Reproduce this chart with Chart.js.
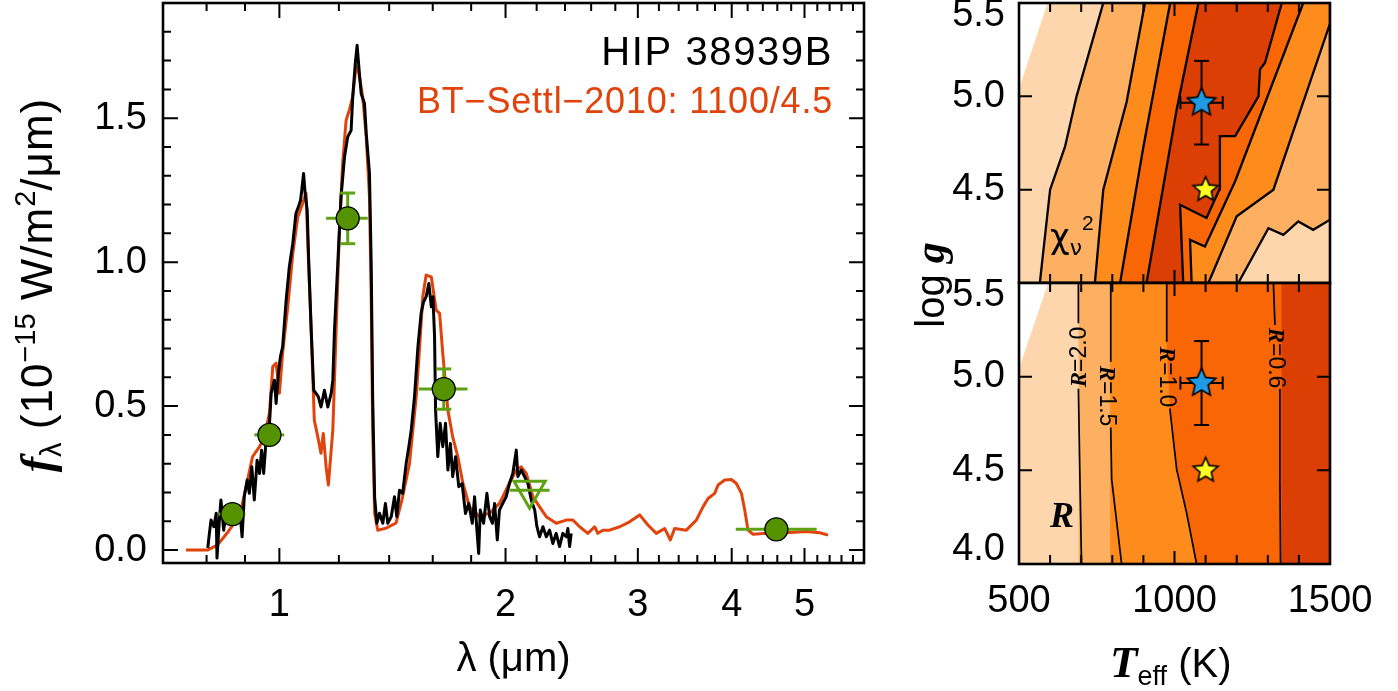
<!DOCTYPE html>
<html>
<head>
<meta charset="utf-8">
<title>HIP 38939B</title>
<script src="https://cdn.jsdelivr.net/npm/chart.js@4.4.1/dist/chart.umd.min.js"></script>
<style>
  html, body { margin:0; padding:0; background:#ffffff; }
  #wrap { position:relative; width:1398px; height:691px; overflow:hidden; background:#fff; }
  canvas { position:absolute; display:block; }
</style>
</head>
<body>
<div id="wrap">
  <canvas id="spec" width="900" height="691" style="left:0px;top:0px;width:900px;height:691px"></canvas>
  <canvas id="chi" width="498" height="360" style="left:900px;top:0px;width:498px;height:360px"></canvas>
  <canvas id="rad" width="498" height="421" style="left:900px;top:270px;width:498px;height:421px"></canvas>
</div>
<script>
// ================= SPECTRUM PANEL DATA =================
const modelLambda = [0.751,0.802,0.827,0.852,0.871,0.889,0.903,0.921,0.941,0.955,
  0.970,0.980,0.990,1.000,1.010,1.026,1.042,1.058,1.074,1.085,
  1.091,1.102,1.113,1.125,1.136,1.144,1.154,1.162,1.178,1.190,
  1.202,1.214,1.227,1.239,1.252,1.265,1.275,1.291,1.305,1.318,
  1.325,1.331,1.339,1.352,1.387,1.430,1.459,1.490,1.521,1.537,
  1.552,1.568,1.593,1.617,1.634,1.650,1.676,1.701,1.728,1.755,
  1.791,1.846,1.905,1.963,2.024,2.067,2.099,2.131,2.175,2.220,
  2.266,2.336,2.410,2.459,2.510,2.574,2.628,2.654,2.695,2.751,
  2.838,2.925,3.017,3.094,3.175,3.257,3.314,3.358,3.481,3.589,
  3.663,3.720,3.797,3.836,3.915,3.996,4.058,4.121,4.163,4.205,
  4.270,4.448,4.730,5.030,5.239,5.374];
const modelFlux = [0.000,0.000,0.017,0.059,0.094,0.139,0.220,0.324,0.359,0.393,
  0.476,0.637,0.649,0.545,0.684,0.845,1.030,1.157,1.204,1.240,
  1.065,0.775,0.451,0.393,0.336,0.405,0.289,0.226,0.417,0.764,
  1.111,1.343,1.493,1.528,1.574,1.680,1.660,1.574,1.435,1.227,
  0.880,0.417,0.128,0.069,0.076,0.094,0.185,0.300,0.532,0.706,
  0.880,0.955,0.949,0.833,0.822,0.683,0.486,0.393,0.324,0.232,
  0.150,0.116,0.128,0.162,0.232,0.278,0.289,0.266,0.185,0.150,
  0.116,0.093,0.104,0.104,0.081,0.058,0.081,0.058,0.069,0.069,
  0.081,0.098,0.122,0.087,0.058,0.075,0.035,0.075,0.069,0.104,
  0.150,0.179,0.197,0.226,0.243,0.245,0.231,0.197,0.139,0.069,
  0.055,0.058,0.060,0.064,0.060,0.052];

const obsLambda = [0.803,0.807,0.811,0.818,0.824,0.826,0.832,0.836,0.843,0.849,
  0.858,0.867,0.876,0.885,0.892,0.898,0.906,0.912,0.919,0.926,
  0.934,0.941,0.947,0.953,0.960,0.968,0.972,0.975,0.985,0.990,
  0.997,1.003,1.010,1.021,1.031,1.042,1.052,1.060,1.067,1.071,
  1.077,1.082,1.089,1.094,1.102,1.111,1.119,1.127,1.136,1.148,
  1.160,1.172,1.178,1.184,1.196,1.208,1.221,1.233,1.246,1.252,
  1.262,1.269,1.278,1.285,1.298,1.305,1.318,1.325,1.331,1.339,
  1.348,1.359,1.373,1.384,1.394,1.409,1.423,1.433,1.445,1.459,
  1.475,1.487,1.498,1.513,1.529,1.544,1.555,1.568,1.581,1.593,
  1.601,1.609,1.614,1.625,1.637,1.650,1.664,1.676,1.689,1.701,
  1.716,1.733,1.751,1.769,1.787,1.806,1.819,1.832,1.842,1.851,
  1.870,1.889,1.905,1.921,1.934,1.950,1.963,1.983,2.004,2.024,
  2.045,2.067,2.077,2.099,2.120,2.142,2.164,2.187,2.202,2.220,
  2.243,2.266,2.289,2.312,2.336,2.360,2.384,2.410,2.421,2.434,2.446];
const obsFlux = [0.007,0.059,0.104,0.081,0.128,-0.028,0.104,0.174,0.069,0.128,
  0.104,0.128,0.104,0.150,0.046,0.185,0.243,0.197,0.289,0.174,
  0.312,0.266,0.347,0.266,0.382,0.405,0.475,0.544,0.590,0.509,
  0.613,0.670,0.706,0.868,0.984,1.065,1.169,1.192,1.215,1.250,
  1.308,1.240,1.180,1.007,0.775,0.555,0.544,0.532,0.497,0.555,
  0.497,0.544,0.590,0.764,0.995,1.227,1.366,1.435,1.458,1.574,
  1.690,1.753,1.655,1.585,1.551,1.447,1.308,0.995,0.532,0.185,
  0.093,0.128,0.093,0.162,0.093,0.116,0.185,0.116,0.208,0.197,
  0.301,0.359,0.417,0.532,0.706,0.822,0.860,0.880,0.926,0.845,
  0.880,0.741,0.486,0.324,0.440,0.359,0.440,0.278,0.370,0.255,
  0.324,0.220,0.231,0.127,0.162,0.093,0.185,0.069,-0.012,0.139,
  0.093,0.197,0.116,0.093,0.162,0.035,0.139,0.162,0.185,0.231,
  0.266,0.347,0.255,0.278,0.255,0.231,0.174,0.139,0.081,0.046,
  0.081,0.046,0.069,0.023,0.058,0.012,0.058,0.046,0.075,0.012,0.058];

const photLambda   = [0.866, 0.970, 1.233, 1.655, 4.587];
const photLambdaLo = [0.830, 0.926, 1.154, 1.533, 4.050];
const photLambdaHi = [0.901, 1.015, 1.311, 1.780, 5.190];
const photFlux     = [0.125, 0.400, 1.152, 0.559, 0.072];
const photFluxErr  = [0.010, 0.012, 0.088, 0.070, 0.004];
const limitLambda   = [2.153];
const limitLambdaLo = [2.025];
const limitLambdaHi = [2.289];
const limitFlux     = [0.208];

const specXRange = [0.7, 6.0];
const specYRange = [-0.045, 1.9];
const specXTickLabels = [1, 2, 3, 4, 5];
const specXMinorTicks = [0.8,0.9,1.2,1.4,1.6,1.8,2.2,2.4,2.6,2.8,3.2,3.4,3.6,3.8,4.2,4.4,4.6,4.8,5.2,5.4,5.6,5.8];
const specYTickLabels = [0.0, 0.5, 1.0, 1.5];
const specYMinorTicks = [0.1,0.2,0.3,0.4,0.6,0.7,0.8,0.9,1.1,1.2,1.3,1.4,1.6,1.7,1.8];

// ================= GRID PANELS DATA =================
const teffRange = [500, 1500];
const loggRange = [4.0, 5.5];
const teffTickLabels = [500, 1000, 1500];
const teffMinorTicks = [600,700,800,900,1100,1200,1300,1400];
const loggTickLabels = [4.0, 4.5, 5.0, 5.5];

// reduced chi^2 contour boundaries (Teff, log g)
const chiWhiteT = [500, 592, 500];            const chiWhiteG = [5.04, 5.5, 5.5];
const chiB1T = [771, 685, 648, 600, 567];     const chiB1G = [5.5, 5.0, 4.73, 4.5, 4.0];
const chiB2T = [905, 846, 771, 744];          const chiB2G = [5.5, 4.97, 4.5, 4.0];
const chiB3T = [986, 900, 825];               const chiB3G = [5.5, 4.73, 4.0];
const chiB4T = [1077, 1007, 910];             const chiB4G = [5.5, 4.93, 4.0];
const chiR5T = [1345, 1291, 1275, 1270, 1195, 1146, 1144, 1103, 1018, 1028];
const chiR5G = [5.5, 5.18, 5.145, 5.0, 4.787, 4.787, 4.5, 4.348, 4.419, 4.0];
const chiR4T = [1414, 1195, 1098, 1050, 1055]; const chiR4G = [5.5, 4.545, 4.195, 4.231, 4.0];
const chiR3T = [1500, 1318, 1200, 1109];       const chiR3G = [5.39, 4.5, 4.357, 4.0];
const chiR2T = [1500, 1446, 1398, 1350, 1302, 1205]; const chiR2G = [4.339, 4.285, 4.33, 4.258, 4.294, 4.0];

// radius contours
const radWhiteT = [500, 594, 500];  const radWhiteG = [5.043, 5.5, 5.5];
const radFillEdges = [692, 793, 1344];
const rad20UpT = [691, 691];        const rad20UpG = [5.5, 5.285];
const rad20LoT = [691, 696, 701];   const rad20LoG = [4.936, 4.45, 4.0];
const rad15UpT = [795, 795];        const rad15UpG = [5.5, 5.079];
const rad15LoT = [795, 798, 830];   const rad15LoG = [4.729, 4.452, 4.0];
const rad10UpT = [975, 975];        const rad10UpG = [5.5, 5.186];
const rad10LoT = [985, 1007, 1039, 1071]; const rad10LoG = [4.83, 4.505, 4.272, 4.0];
const rad06UpT = [1318, 1323];      const rad06UpG = [5.5, 5.276];
const rad06LoT = [1339, 1339, 1341]; const rad06LoG = [4.935, 4.45, 4.0];

// stars
const evolTeff = [1087]; const evolTeffErr = [68]; const evolLogg = [4.966]; const evolLoggErr = [0.224];
const bestTeff = [1100]; const bestLogg = [4.5];

// ================= STYLES =================
const RED = '#e0430b';
const GREEN_FILL = '#559200';
const GREEN_BAR = '#5ea214';
const C1 = '#fdd6ad', C2 = '#fdaf62', C3 = '#fd8c1d', C4 = '#f86606', C5 = '#dc3f04';
const SANS = '"Liberation Sans", Arial, Helvetica, sans-serif';
const SERIF = '"Liberation Serif", "Times New Roman", serif';
const GREEK = '"DejaVu Sans", sans-serif';
const TRANSPARENT = 'rgba(0,0,0,0)';

// ================= HELPERS =================
const pts = (xs, ys) => xs.map((x, i) => ({x: x, y: ys[i]}));
const rev = a => a.slice().reverse();

function drawRich(ctx, t) {
  ctx.save();
  ctx.translate(t.x, t.y);
  if (t.rot) ctx.rotate(t.rot);
  ctx.textBaseline = 'alphabetic';
  ctx.textAlign = 'left';
  let w = 0;
  const widths = t.runs.map(r => {
    ctx.font = r.font;
    if ('letterSpacing' in ctx) ctx.letterSpacing = r.ls || '0px';
    const m = ctx.measureText(r.t).width; w += m; return m;
  });
  let x = t.align === 'center' ? -w / 2 : (t.align === 'right' ? -w : 0);
  t.runs.forEach((r, i) => {
    ctx.font = r.font;
    if ('letterSpacing' in ctx) ctx.letterSpacing = r.ls || '0px';
    ctx.fillStyle = r.color || t.color || '#000';
    ctx.fillText(r.t, x, r.dy || 0);
    x += widths[i];
  });
  if ('letterSpacing' in ctx) ctx.letterSpacing = '0px';
  ctx.restore();
}

function makeDecor(cfg) {
  return {
    id: 'decor',
    afterDatasetsDraw(chart) {
      const ctx = chart.ctx, a = chart.chartArea, sx = chart.scales.x, sy = chart.scales.y;
      ctx.save();
      ctx.strokeStyle = '#000';
      ctx.lineWidth = cfg.tickWidth;
      ctx.beginPath();
      const xt = (vals, len) => vals.forEach(v => {
        const p = sx.getPixelForValue(v);
        ctx.moveTo(p, a.bottom); ctx.lineTo(p, a.bottom - len);
        ctx.moveTo(p, a.top); ctx.lineTo(p, a.top + len);
      });
      const yt = (vals, len) => vals.forEach(v => {
        const p = sy.getPixelForValue(v);
        ctx.moveTo(a.left, p); ctx.lineTo(a.left + len, p);
        ctx.moveTo(a.right, p); ctx.lineTo(a.right - len, p);
      });
      xt(cfg.xMajor, cfg.majorLen);
      xt(cfg.xMinor, cfg.minorLen);
      yt(cfg.yMajor, cfg.majorLen);
      yt(cfg.yMinor, cfg.minorLen);
      ctx.stroke();
      ctx.lineWidth = cfg.frameWidth;
      ctx.strokeRect(a.left, a.top, a.right - a.left, a.bottom - a.top);
      if (cfg.yLabels) {
        ctx.font = '38px ' + SANS;
        ctx.fillStyle = '#000';
        ctx.textAlign = 'right';
        ctx.textBaseline = 'middle';
        cfg.yLabels.values.forEach(v => {
          let p = sy.getPixelForValue(v);
          p = Math.max(a.top + 13, Math.min(a.bottom - 14, p));
          ctx.fillText(v.toFixed(1), cfg.yLabels.x, p);
        });
      }
      (cfg.texts || []).forEach(t => drawRich(ctx, t));
      ctx.restore();
    }
  };
}

function starCanvas(R, fill, lw) {
  const s = Math.ceil(2 * R + 2 * lw + 4);
  const c = document.createElement('canvas');
  c.width = s; c.height = s;
  const g = c.getContext('2d');
  const cx = s / 2, cy = s / 2;
  g.beginPath();
  for (let i = 0; i < 10; i++) {
    const r = (i % 2) ? R * 0.46 : R;
    const ang = -Math.PI / 2 + i * Math.PI / 5;
    g.lineTo(cx + r * Math.cos(ang), cy + r * Math.sin(ang));
  }
  g.closePath();
  g.fillStyle = fill; g.fill();
  g.lineWidth = lw; g.strokeStyle = '#000'; g.lineJoin = 'miter'; g.stroke();
  return c;
}
const blueStar = starCanvas(15, '#1f9be6', 1.6);
const yellowStar = starCanvas(13, '#ffff22', 1.6);

const baseOptions = () => ({
  responsive: false,
  animation: false,
  events: [],
  plugins: { legend: { display: false }, tooltip: { enabled: false } }
});

// ================= SPECTRUM CHART =================
(function () {
  const ds = [];
  ds.push({ data: pts(modelLambda, modelFlux), showLine: true, borderColor: RED, borderWidth: 3,
            borderJoinStyle: 'round', pointRadius: 0, order: 10 });
  ds.push({ data: pts(obsLambda, obsFlux), showLine: true, borderColor: '#000', borderWidth: 3,
            borderJoinStyle: 'round', pointRadius: 0, order: 9 });
  photLambda.forEach((lam, i) => {
    ds.push({ data: [{x: photLambdaLo[i], y: photFlux[i]}, {x: photLambdaHi[i], y: photFlux[i]}],
              showLine: true, borderColor: GREEN_BAR, borderWidth: 3, pointRadius: 0, order: 5 });
    ds.push({ data: [{x: lam, y: photFlux[i] - photFluxErr[i]}, {x: lam, y: photFlux[i] + photFluxErr[i]}],
              showLine: true, borderColor: GREEN_BAR, borderWidth: 3, pointStyle: 'line', pointRadius: 7.5,
              pointBorderColor: GREEN_BAR, pointBorderWidth: 3, order: 5 });
  });
  limitLambda.forEach((lam, i) => {
    ds.push({ data: [{x: limitLambdaLo[i], y: limitFlux[i]}, {x: limitLambdaHi[i], y: limitFlux[i]}],
              showLine: true, borderColor: GREEN_BAR, borderWidth: 3, pointRadius: 0, order: 5 });
  });
  ds.push({ data: pts(photLambda, photFlux), pointStyle: 'circle', pointRadius: 11.5,
            pointBackgroundColor: GREEN_FILL, pointBorderColor: '#000', pointBorderWidth: 1.3, order: 1 });
  ds.push({ data: pts(limitLambda, limitFlux), pointStyle: 'triangle', pointRotation: 180, pointRadius: 18,
            pointBackgroundColor: TRANSPARENT, pointBorderColor: GREEN_BAR, pointBorderWidth: 3, order: 1 });

  const opts = baseOptions();
  opts.layout = { autoPadding: false, padding: { left: 0, top: 3, right: 36, bottom: 0 } };
  opts.scales = {
    x: {
      type: 'logarithmic', min: specXRange[0], max: specXRange[1],
      grid: { display: false, drawTicks: false }, border: { display: false },
      afterBuildTicks: s => { s.ticks = specXTickLabels.map(v => ({value: v})); },
      afterFit: s => { s.height = 128; s.paddingLeft = 0; s.paddingRight = 0; },
      ticks: { autoSkip: false, maxRotation: 0, minRotation: 0, padding: 20, color: '#000',
               font: { family: SANS, size: 38 }, callback: v => String(v) },
      title: { display: true, text: 'λ (μm)', color: '#000', font: { family: SANS, size: 40 },
               padding: { top: 0, bottom: 7 } }
    },
    y: {
      type: 'linear', min: specYRange[0], max: specYRange[1],
      grid: { display: false, drawTicks: false }, border: { display: false },
      afterBuildTicks: s => { s.ticks = specYTickLabels.map(v => ({value: v})); },
      afterFit: s => { s.width = 163; s.paddingTop = 0; s.paddingBottom = 0; },
      ticks: { autoSkip: false, padding: 16, color: '#000', font: { family: SANS, size: 38 },
               callback: v => Number(v).toFixed(1) }
    }
  };
  new Chart(document.getElementById('spec'), {
    type: 'scatter',
    data: { datasets: ds },
    options: opts,
    plugins: [makeDecor({
      tickWidth: 2, frameWidth: 2.6, majorLen: 15, minorLen: 8,
      xMajor: specXTickLabels, xMinor: specXMinorTicks, yMajor: specYTickLabels, yMinor: specYMinorTicks,
      texts: [
        { x: 833, y: 65, align: 'right', runs: [{ t: 'HIP 38939B', font: '40px ' + SANS, ls: '1.6px' }] },
        { x: 833, y: 113, align: 'right', color: RED, runs: [{ t: 'BT−Settl−2010: 1100/4.5', font: '36px ' + SANS, ls: '0.8px' }] },
        { x: 52, y: 285, rot: -Math.PI / 2, align: 'center', runs: [
          { t: 'f', font: 'bold italic 46px ' + SERIF },
          { t: 'λ', font: '29px ' + SANS, dy: 9 },
          { t: ' (10', font: '44px ' + SANS, ls: '1px' },
          { t: '−15', font: '29px ' + SANS, dy: -17 },
          { t: ' W/m', font: '44px ' + SANS, ls: '1px' },
          { t: '2', font: '29px ' + SANS, dy: -17 },
          { t: '/μm)', font: '44px ' + SANS, ls: '1px' }
        ] }
      ]
    })]
  });
})();

// ================= GRID HELPERS =================
const corner = () => ({x: teffRange[1], y: loggRange[1]});
const boxFrom = t0 => [{x: t0, y: loggRange[0]}, {x: teffRange[1], y: loggRange[0]},
                       {x: teffRange[1], y: loggRange[1]}, {x: t0, y: loggRange[1]}];
function region(data, color, withLine, order, lw) {
  return { data: data, showLine: true, fill: 'shape', backgroundColor: color,
           borderColor: withLine ? '#000' : TRANSPARENT, borderWidth: withLine ? (lw || 2.3) : 1,
           pointRadius: 0, order: order };
}
function starSets() {
  const out = [];
  evolTeff.forEach((t, i) => {
    out.push({ data: [{x: t - evolTeffErr[i], y: evolLogg[i]}, {x: t + evolTeffErr[i], y: evolLogg[i]}],
               showLine: true, borderColor: '#000', borderWidth: 2, pointStyle: 'line', pointRotation: 90,
               pointRadius: 6.5, pointBorderColor: '#000', pointBorderWidth: 2, order: 3 });
    out.push({ data: [{x: t, y: evolLogg[i] - evolLoggErr[i]}, {x: t, y: evolLogg[i] + evolLoggErr[i]}],
               showLine: true, borderColor: '#000', borderWidth: 2, pointStyle: 'line',
               pointRadius: 7.5, pointBorderColor: '#000', pointBorderWidth: 2, order: 3 });
  });
  out.push({ data: pts(evolTeff, evolLogg), pointStyle: blueStar, pointRadius: 15, order: 1 });
  out.push({ data: pts(bestTeff, bestLogg), pointStyle: yellowStar, pointRadius: 13, order: 2 });
  return out;
}
const gridScales = (xDisplay, xTickPad) => {
  const x = {
    type: 'linear', min: teffRange[0], max: teffRange[1], display: xDisplay,
    grid: { display: false, drawTicks: false }, border: { display: false },
    ticks: { autoSkip: false, maxRotation: 0, minRotation: 0, padding: xTickPad, color: '#000',
             font: { family: SANS, size: 38 }, callback: v => String(v) }
  };
  if (xDisplay) {
    x.afterBuildTicks = s => { s.ticks = teffTickLabels.map(v => ({value: v})); };
    x.afterFit = s => { s.height = 127; s.paddingLeft = 0; s.paddingRight = 0; };
  }
  return {
    x: x,
    y: { type: 'linear', min: loggRange[0], max: loggRange[1], display: false }
  };
};

// ================= CHI^2 PANEL =================
(function () {
  const ds = [
    region(boxFrom(teffRange[0]), C1, false, 30),
    region([...pts(chiB1T, chiB1G), ...rev(pts(chiR2T, chiR2G)), corner()], C2, true, 29),
    region([...pts(chiB2T, chiB2G), ...rev(pts(chiR3T, chiR3G)), corner()], C3, true, 28),
    region([...pts(chiB3T, chiB3G), ...rev(pts(chiR4T, chiR4G))], C4, true, 27),
    region([...pts(chiB4T, chiB4G), ...rev(pts(chiR5T, chiR5G))], C5, true, 26),
    region(pts(chiWhiteT, chiWhiteG), '#ffffff', false, 25),
    ...starSets()
  ];
  const opts = baseOptions();
  opts.layout = { autoPadding: false, padding: { left: 119, top: 3, right: 68, bottom: 77 } };
  opts.scales = gridScales(false, 0);
  new Chart(document.getElementById('chi'), {
    type: 'scatter', data: { datasets: ds }, options: opts,
    plugins: [makeDecor({
      tickWidth: 2, frameWidth: 2.6, majorLen: 13, minorLen: 9,
      xMajor: teffTickLabels, xMinor: teffMinorTicks, yMajor: loggTickLabels, yMinor: [],
      yLabels: { values: [5.5, 5.0, 4.5], x: 105 },
      texts: [
        { x: 150, y: 248, runs: [
          { t: 'χ', font: '34px ' + GREEK },
          { t: 'ν', font: '22px ' + GREEK, dy: 7 },
          { t: '2', font: '21px ' + SANS, dy: -18 }
        ] },
        { x: 44, y: 285, rot: -Math.PI / 2, align: 'center', runs: [
          { t: 'log ', font: '40px ' + SANS },
          { t: 'g', font: 'bold italic 42px ' + SERIF }
        ] }
      ]
    })]
  });
})();

// ================= RADIUS PANEL =================
(function () {
  const line = (ts, gs) => ({ data: pts(ts, gs), showLine: true, borderColor: '#000', borderWidth: 1.7,
                               pointRadius: 0, order: 10 });
  const ds = [
    region(boxFrom(teffRange[0]), C1, false, 30),
    region(boxFrom(radFillEdges[0]), C2, false, 29),
    region(boxFrom(radFillEdges[1]), C3, false, 28),
    region([...pts(rad10UpT, rad10UpG), ...pts(rad10LoT, rad10LoG),
            {x: teffRange[1], y: loggRange[0]}, corner()], C4, false, 27),
    region(boxFrom(radFillEdges[2]), C5, false, 26),
    region(pts(radWhiteT, radWhiteG), '#ffffff', false, 25),
    line(rad20UpT, rad20UpG), line(rad20LoT, rad20LoG),
    line(rad15UpT, rad15UpG), line(rad15LoT, rad15LoG),
    line(rad10UpT, rad10UpG), line(rad10LoT, rad10LoG),
    line(rad06UpT, rad06UpG), line(rad06LoT, rad06LoG),
    ...starSets()
  ];
  const lab = (txt) => [{ t: 'R', font: 'bold italic 23px ' + SERIF }, { t: txt, font: '23px ' + SANS }];
  const opts = baseOptions();
  opts.layout = { autoPadding: false, padding: { left: 119, top: 13, right: 68, bottom: 0 } };
  opts.scales = gridScales(true, 15);
  new Chart(document.getElementById('rad'), {
    type: 'scatter', data: { datasets: ds }, options: opts,
    plugins: [makeDecor({
      tickWidth: 2, frameWidth: 2.6, majorLen: 13, minorLen: 9,
      xMajor: teffTickLabels, xMinor: teffMinorTicks, yMajor: loggTickLabels, yMinor: [],
      yLabels: { values: [5.5, 5.0, 4.5, 4.0], x: 105 },
      texts: [
        { x: 150, y: 257, runs: [{ t: 'R', font: 'bold italic 36px ' + SERIF }] },
        { x: 186, y: 87, rot: -Math.PI / 2, align: 'center', runs: lab('=2.0') },
        { x: 200, y: 126, rot: Math.PI / 2, align: 'center', runs: lab('=1.5') },
        { x: 260, y: 107, rot: Math.PI / 2, align: 'center', runs: lab('=1.0') },
        { x: 369, y: 88, rot: Math.PI / 2, align: 'center', runs: lab('=0.6') },
        { x: 210, y: 407, runs: [
          { t: 'T', font: 'bold italic 45px ' + SERIF },
          { t: 'eff', font: '27px ' + SANS, dy: 8 },
          { t: ' (K)', font: '40px ' + SANS }
        ] }
      ]
    })]
  });
})();
</script>
</body>
</html>
